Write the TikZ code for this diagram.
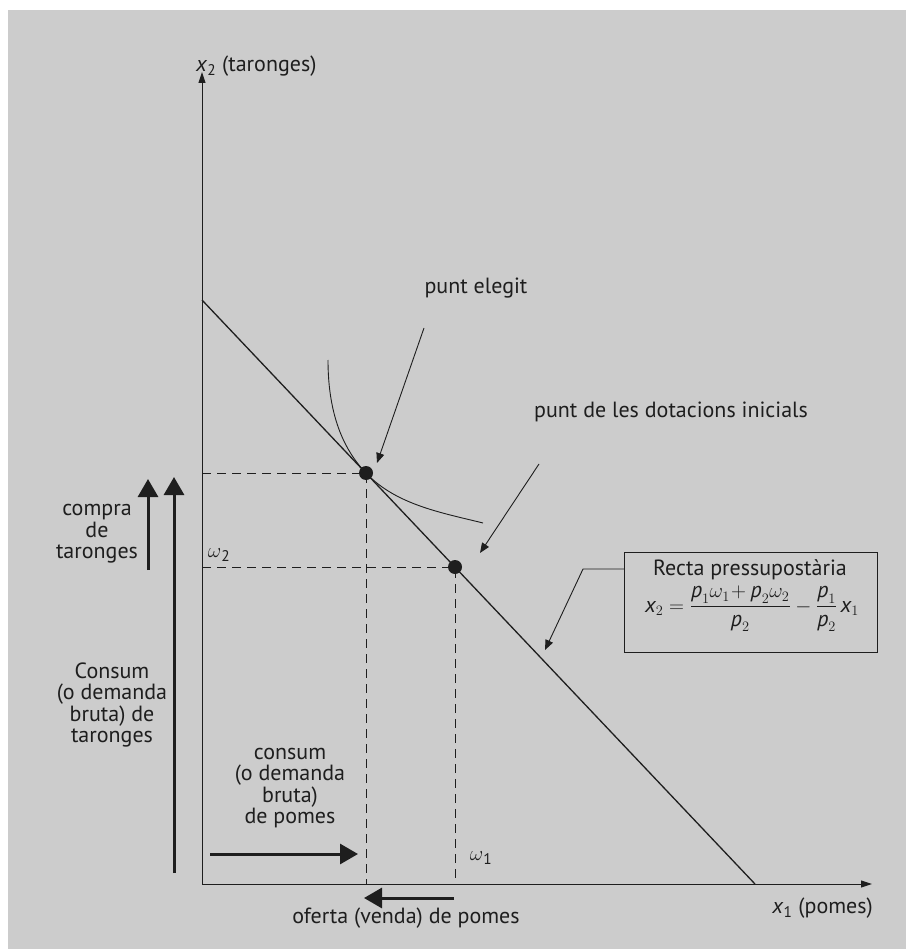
\documentclass[tikz,border=0pt]{standalone}
\usepackage{fontspec}
\setmainfont{PT Sans}
\usepackage{amsmath}
\usetikzlibrary{arrows.meta}
\definecolor{bg}{gray}{0.8}
\definecolor{ink}{HTML}{1E1E1E}
\newcommand{\iv}[1]{\mbox{\itshape #1}}

\begin{document}
\begin{tikzpicture}[x=1pt,y=-1pt,
  lbl/.style={font=\fontsize{22}{21.5}\selectfont,text=ink,inner sep=0pt,align=center},
  dashln/.style={dash pattern=on 9pt off 6pt,line width=0.9pt,ink},
  bigarr/.style={-{Triangle[length=18pt,width=20pt]},line width=3pt,ink},
  pin/.style={-{Triangle[length=10pt,width=8pt]},line width=0.9pt,ink},
  axis/.style={-{Triangle[length=11pt,width=7pt]},line width=1pt,ink},
  dot/.style={circle,fill=ink,inner sep=0pt,minimum size=14pt}]
  \fill[bg] (8,10) rectangle (906,949);
  \useasboundingbox (0,0) rectangle (906,949);

  % axes
  \coordinate (O) at (202,884);
  \coordinate (ytip) at (202,72);
  \coordinate (xtip) at (872,884);
  \draw[axis] (O) -- (ytip);
  \draw[axis] (O) -- (xtip);
  \node[lbl,anchor=west] (ylab) at (196,66) {\textit{x}\textsubscript{2} (taronges)};
  \node[lbl,anchor=east] (xlab) at (873,908) {\textit{x}\textsubscript{1} (pomes)};

  % budget line and points
  \coordinate (A) at (202,300);
  \coordinate (B) at (755,884);
  \draw[line width=1.3pt,ink] (A) -- (B);
  \node[dot] (E) at (366,473) {};
  \node[dot] (W) at (455,567) {};

  % indifference curve
  \draw[line width=0.9pt,ink] (328,360) .. controls (328,410) and (341,447) .. (E.center)
    .. controls (396,505) and (443,513) .. (483,523);

  % dashed guides
  \coordinate (e2) at (202,473);
  \coordinate (e1) at (366,884);
  \coordinate (w2) at (202,567);
  \coordinate (w1) at (455,884);
  \draw[dashln] (e2) -- (E.center) -- (e1);
  \draw[dashln] (w2) -- (W.center) -- (w1);
  \node[lbl] (om1) at (481,858) {$\omega$\textsubscript{1}};
  \node[lbl] (om2) at (219,555) {$\omega$\textsubscript{2}};

  % labels with pointers
  \node[lbl] (elegit) at (476,288) {punt elegit};
  \coordinate (p1) at (424,328);
  \coordinate (p2) at (377,463);
  \draw[pin] (p1) -- (p2);
  \node[lbl] (dotac) at (671,412) {punt de les dotacions inicials};
  \coordinate (q1) at (539,464);
  \coordinate (q2) at (480,553);
  \draw[pin] (q1) -- (q2);

  % budget equation box
  \node[draw=ink,line width=1pt,minimum width=253pt,minimum height=100pt] (recta) at (750.5,602) {};
  \node[lbl,anchor=base] (rtitle) at (750,575) {Recta pressupostària};
  \node[lbl,anchor=base] (rform) at (752,612)
    {$\iv{x}_2=\dfrac{\iv{p}_1\omega_1\!+\iv{p}_2\omega_2}{\iv{p}_2}-\dfrac{\iv{p}_1}{\iv{p}_2}\,\iv{x}_1$};
  \coordinate (r0) at (624,569);
  \coordinate (r1) at (583,569);
  \coordinate (r2) at (545,650);
  \draw[pin] (r0) -- (r1) -- (r2);

  % quantity arrows
  \coordinate (c1) at (148,570);
  \coordinate (c2) at (148,479);
  \draw[bigarr] (c1) -- (c2);
  \node[lbl] (compra) at (97,534) {compra\\de\\taronges};
  \coordinate (t1) at (174,873);
  \coordinate (t2) at (174,477);
  \draw[bigarr] (t1) -- (t2);
  \node[lbl] (consumt) at (112,705) {Consum\\(o demanda\\bruta) de\\taronges};
  \coordinate (m1) at (210,854);
  \coordinate (m2) at (358,854);
  \draw[bigarr] (m1) -- (m2);
  \node[lbl] (consump) at (290,788) {consum\\(o demanda\\bruta)\\de pomes};
  \coordinate (s1) at (454,898);
  \coordinate (s2) at (364,898);
  \draw[bigarr] (s1) -- (s2);
  \node[lbl] (oferta) at (406,918) {oferta (venda) de pomes};
\end{tikzpicture}
\end{document}
